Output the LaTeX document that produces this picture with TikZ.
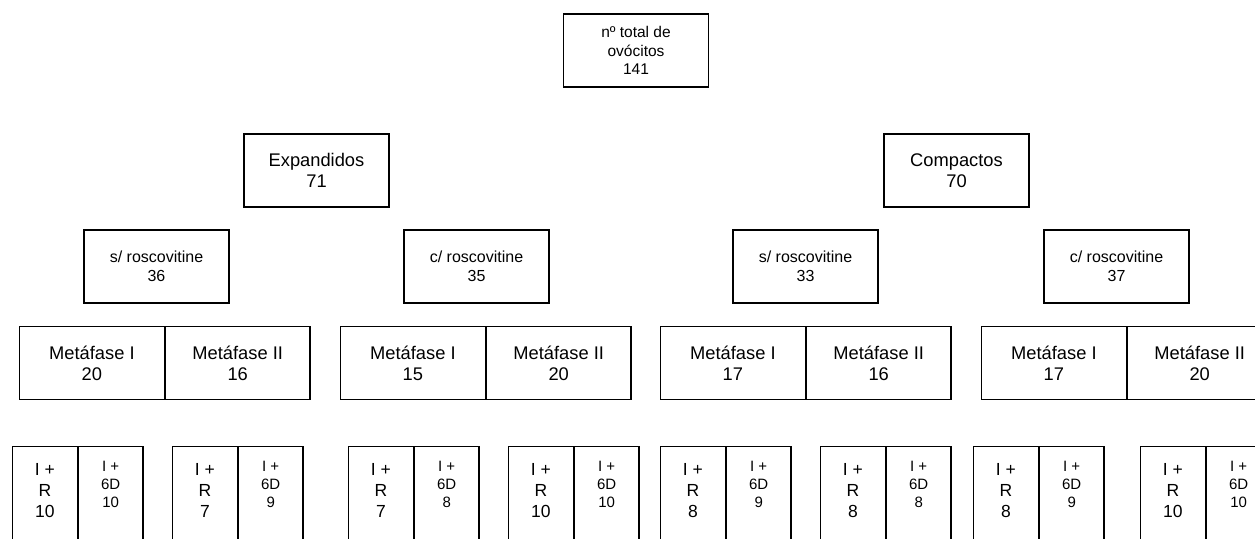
\documentclass[tikz,border=0pt]{standalone}
\usepackage{fontspec}
\setmainfont{Liberation Sans}
\usetikzlibrary{positioning}

\begin{document}
\begin{tikzpicture}[x=1pt,y=-1pt,
    box/.style={draw,line width=1.3pt,minimum width=145pt,minimum height=73pt,inner sep=0pt,align=center},
    groupbox/.style={box,font=\fontsize{18.3}{21}\selectfont},
    treatbox/.style={box,font=\fontsize{16}{19}\selectfont},
    phasebox/.style={box,minimum width=144.5pt,anchor=north west,font=\fontsize{18.3}{21}\selectfont},
    cellbox/.style={draw,line width=1.3pt,minimum width=64.5pt,minimum height=130pt,inner sep=0pt,anchor=north west},
    celltxtR/.style={inner sep=0pt,align=center,anchor=north,font=\fontsize{17.5}{21}\selectfont},
    celltxtD/.style={inner sep=0pt,align=center,anchor=north,font=\fontsize{15}{18}\selectfont}]
    \useasboundingbox (0,0) rectangle (1255,538);
    \clip (0,0) rectangle (1255,538);

    \node[box,font=\fontsize{15.5}{18.3}\selectfont] (total) at (636,50.5) {nº total de\\ovócitos\\141};

    \node[groupbox] (exp) at (316.5,170.5) {Expandidos\\71};
    \node[groupbox] (comp) at (956.5,170.5) {Compactos\\70};

    \node[treatbox] (es) at (156.5,266.5) {s/ roscovitine\\36};
    \node[treatbox] (ec) at (476.5,266.5) {c/ roscovitine\\35};
    \node[treatbox] (cs) at (805.5,266.5) {s/ roscovitine\\33};
    \node[treatbox] (cc) at (1116.5,266.5) {c/ roscovitine\\37};

    \node[phasebox] (esm1) at (19,326) {Metáfase I\\20};
    \node[phasebox] (esm2) at (esm1.north east) {Metáfase II\\16};
    \node[phasebox] (ecm1) at (340,326) {Metáfase I\\15};
    \node[phasebox] (ecm2) at (ecm1.north east) {Metáfase II\\20};
    \node[phasebox] (csm1) at (660,326) {Metáfase I\\17};
    \node[phasebox] (csm2) at (csm1.north east) {Metáfase II\\16};
    \node[phasebox] (ccm1) at (981,326) {Metáfase I\\17};
    \node[phasebox] (ccm2) at (ccm1.north east) {Metáfase II\\20};

    \foreach \x/\r/\d [count=\i] in {12/10/10,172/7/9,348/7/8,508/10/10,660/8/9,820/8/8,973/8/9,1140/10/10}{
        \node[cellbox] (r\i) at (\x,446) {};
        \node[cellbox] (d\i) at (r\i.north east) {};
        \node[celltxtR,below=17pt of r\i.north] (rt\i) {I +\\R\\\r};
        \node[celltxtD,below=15pt of d\i.north] (dt\i) {I +\\6D\\\d};
    }
\end{tikzpicture}
\end{document}
